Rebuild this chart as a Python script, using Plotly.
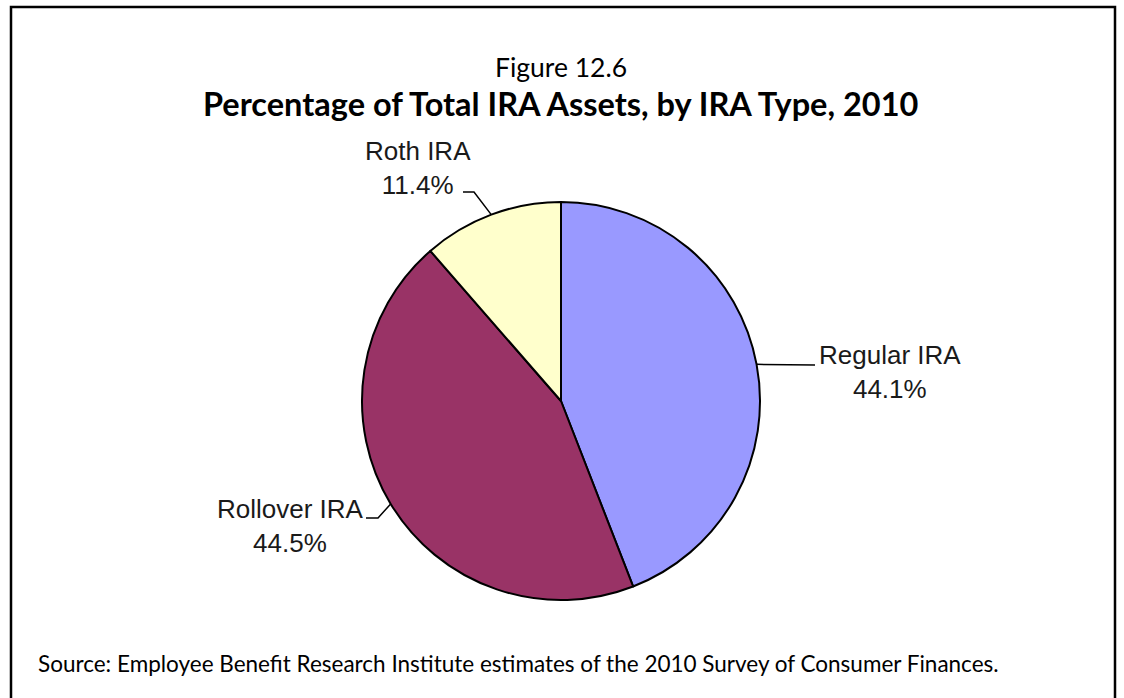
import math
import plotly.graph_objects as go

# ---- data ----
categories = ["Regular IRA", "Rollover IRA", "Roth IRA"]
values = [44.1, 44.5, 11.4]
colors = ["#9999FF", "#993366", "#FFFFCC"]

W, H = 1124, 698
# pie geometry (pixels)
CX, CY, R = 561, 401, 199

def px(x):
    return x / W

def py(y):
    return 1 - y / H

fig = go.Figure()
fig.add_trace(go.Pie(
    labels=categories, values=values, sort=False, direction="clockwise",
    rotation=0, textinfo="none", hoverinfo="label+percent",
    marker=dict(colors=colors, line=dict(color="#000000", width=2)),
    domain=dict(x=[px(CX - R), px(CX + R)], y=[py(CY + R), py(CY - R)]),
    showlegend=False,
))

# label blocks: (center x, center y) in pixels, and leader elbow config
label_pos = {
    "Regular IRA": dict(cx=890, cy=372, path=[(815, 365)]),
    "Rollover IRA": dict(cx=290, cy=526, path=[(366, 518), (378, 518)]),
    "Roth IRA": dict(cx=418, cy=168, path=[(463, 192), (474, 192)]),
}

shapes = []
annotations = []
total = sum(values)
cum = 0.0
for cat, v in zip(categories, values):
    mid = (cum + v / 2) / total * 2 * math.pi
    cum += v
    ex = CX + R * math.sin(mid)
    ey = CY - R * math.cos(mid)
    lp = label_pos[cat]
    pts = lp["path"] + [(ex, ey)]
    d = "M " + " L ".join(f"{px(x):.5f},{py(y):.5f}" for x, y in pts)
    shapes.append(dict(type="path", xref="paper", yref="paper", path=d,
                       line=dict(color="#000000", width=1.5)))
    annotations.append(dict(
        text=f"{cat}<br>{v:.1f}%", x=px(lp["cx"]), y=py(lp["cy"]),
        xref="paper", yref="paper", xanchor="center", yanchor="middle",
        showarrow=False, align="center",
        font=dict(family="Liberation Sans, Arial", size=26, color="#1a1a1a")))

# border
shapes.append(dict(type="rect", xref="paper", yref="paper",
                   x0=px(11), x1=px(1115), y0=py(705), y1=py(7),
                   line=dict(color="#000000", width=2.5), fillcolor="rgba(0,0,0,0)"))

annotations.append(dict(text="Figure 12.6", x=px(561), y=py(67), xref="paper", yref="paper",
                        xanchor="center", yanchor="middle", showarrow=False,
                        font=dict(family="Lato", size=26.5, color="#000000")))
annotations.append(dict(text="<b>Percentage of Total IRA Assets, by IRA Type, 2010</b>",
                        x=px(561), y=py(103), xref="paper", yref="paper",
                        xanchor="center", yanchor="middle", showarrow=False,
                        font=dict(family="Lato", size=32.5, color="#000000")))
annotations.append(dict(text="Source: Employee Benefit Research Institute estimates of the 2010 Survey of Consumer Finances.",
                        x=px(36), y=py(663), xref="paper", yref="paper",
                        xanchor="left", yanchor="middle", showarrow=False,
                        font=dict(family="Lato", size=22.5, color="#000000")))

fig.update_layout(width=W, height=H, margin=dict(l=0, r=0, t=0, b=0),
                  paper_bgcolor="#FFFFFF", plot_bgcolor="#FFFFFF",
                  shapes=shapes, annotations=annotations)

fig.write_html("out.html")
